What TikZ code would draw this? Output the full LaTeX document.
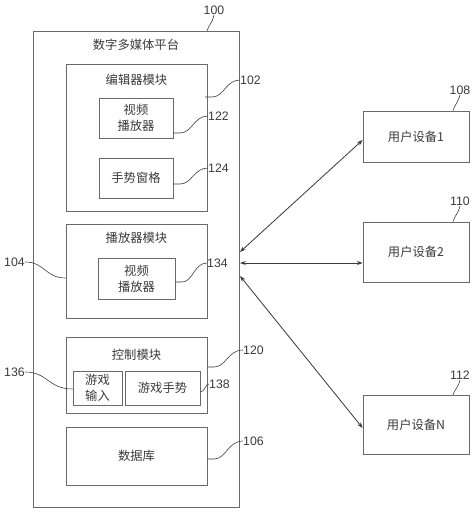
\documentclass[tikz,border=0pt]{standalone}
\usepackage{fontspec}
\usetikzlibrary{arrows.meta}
\setmainfont{Liberation Sans}
\newfontfamily\cjk{Noto Sans CJK SC}
\definecolor{ink}{HTML}{3A3A3A}
\definecolor{edge}{HTML}{6A6A6A}
\begin{document}
\begin{tikzpicture}
            [x=0.03cm, y=-0.03cm,
             box/.style={draw=edge, line width=0.6pt, inner sep=0pt, align=center,
                         text=ink, font=\cjk\fontsize{10.5}{13.5}\selectfont},
             txt/.style={text=ink, inner sep=0pt, font=\cjk\fontsize{10.5}{13.5}\selectfont},
             num/.style={text=ink, inner sep=0pt, font=\fontsize{10.5}{12}\selectfont},
             lead/.style={draw=ink, line width=0.5pt},
             link/.style={draw=ink, line width=0.7pt, {Stealth[length=5pt,width=3.5pt]}-{Stealth[length=5pt,width=3.5pt]}}]
            \useasboundingbox (0,0) rectangle (474,512);
            %\draw [help lines, step=50] (0,0) grid (474,512);
            % platform
            \node[box, minimum width=206*0.03cm, minimum height=476*0.03cm] (plat) at (136,269) {};
            \node[txt] (platT) at (136,45) {数字多媒体平台};
            \node[box, minimum width=141*0.03cm, minimum height=147*0.03cm] (editor) at (136.5,137.5) {};
            \node[txt] (editorT) at (136.5,80) {编辑器模块};
            \node[box, minimum width=74*0.03cm, minimum height=40*0.03cm] (vpA) at (136,118) {视频\\播放器};
            \node[box, minimum width=74*0.03cm, minimum height=40*0.03cm] (pane) at (136,178) {手势窗格};
            \node[box, minimum width=141*0.03cm, minimum height=94*0.03cm] (player) at (136.5,271) {};
            \node[txt] (playerT) at (136.5,238) {播放器模块};
            \node[box, minimum width=77*0.03cm, minimum height=41*0.03cm] (vpB) at (136.5,278.5) {视频\\播放器};
            \node[box, minimum width=141*0.03cm, minimum height=76*0.03cm] (ctrl) at (136.5,375) {};
            \node[txt] (ctrlT) at (136.5,355) {控制模块};
            \node[box, minimum width=49*0.03cm, minimum height=34*0.03cm] (gin) at (97.5,388) {游戏\\输入};
            \node[box, minimum width=75*0.03cm, minimum height=34*0.03cm] (ggest) at (162.5,388) {游戏手势};
            \node[box, minimum width=141*0.03cm, minimum height=58*0.03cm] (db) at (136.5,456) {数据库};
            % devices
            \node[box, minimum width=106*0.03cm, minimum height=51*0.03cm] (dev1) at (416,136.5) {用户设备1};
            \node[box, minimum width=106*0.03cm, minimum height=60*0.03cm] (dev2) at (416,252) {用户设备2};
            \node[box, minimum width=106*0.03cm, minimum height=59*0.03cm] (devN) at (416,424.5) {用户设备N};
            \coordinate (pA) at (240,252);
            \coordinate (pB) at (240,263);
            \coordinate (pC) at (240,276);
            \draw[link] (pA) -- (dev1.west |- 0,140);
            \draw[link] (pB) -- (dev2.west |- 0,263);
            \draw[link] (pC) -- (devN.west |- 0,428);
            % reference numbers
            \node[num, anchor=south] (n100) at (214,15) {100};
            \draw[lead] (207,31) .. controls (209,24) and (212,24) .. (n100.south);
            \node[num, anchor=west] (n102) at (240,80) {102};
            \draw[lead] (205,97) -- (212,97) .. controls (224,97) and (226,80) .. (n102.west);
            \node[num, anchor=west] (n122) at (208,116) {122};
            \draw[lead] (vpA.east |- 0,133) -- (180,133) .. controls (192,133) and (194,116) .. (n122.west);
            \node[num, anchor=west] (n124) at (208,168) {124};
            \draw[lead] (pane.east |- 0,184) -- (180,184) .. controls (192,184) and (194,168) .. (n124.west);
            \node[num, anchor=west] (n134) at (207,263) {134};
            \draw[lead] (vpB.east |- 0,282) -- (182,282) .. controls (193,282) and (194,263) .. (n134.west);
            \node[num, anchor=east] (n104) at (25,262) {104};
            \draw[lead] (n104.east) .. controls (45,262) and (45,278) .. (player.west |- 0,278);
            \node[num, anchor=east] (n136) at (25,372) {136};
            \draw[lead] (n136.east) .. controls (48,372) and (48,389) .. (gin.west |- 0,389);
            \node[num, anchor=west] (n138) at (209,384) {138};
            \draw[lead] (ggest.east |- 0,392) .. controls (205,392) and (205,384) .. (n138.west);
            \node[num, anchor=west] (n120) at (243,350) {120};
            \draw[lead] (ctrl.east |- 0,367) -- (214,367) .. controls (226,367) and (228,350) .. (n120.west);
            \node[num, anchor=west] (n106) at (243,441) {106};
            \draw[lead] (db.east |- 0,459) -- (214,459) .. controls (226,459) and (228,441) .. (n106.west);
            \node[num, anchor=south] (n108) at (460,95) {108};
            \draw[lead] (dev1.north -| 453,0) .. controls (455,104) and (458,103) .. (n108.south);
            \node[num, anchor=south] (n110) at (460,206) {110};
            \draw[lead] (dev2.north -| 453,0) .. controls (455,215) and (458,214) .. (n110.south);
            \node[num, anchor=south] (n112) at (460,380) {112};
            \draw[lead] (devN.north -| 453,0) .. controls (455,389) and (458,388) .. (n112.south);
\end{tikzpicture}
\end{document}
